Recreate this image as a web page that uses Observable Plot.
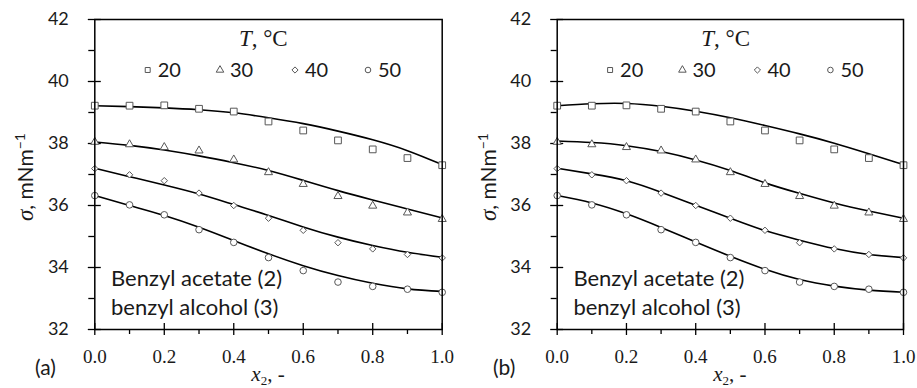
<!DOCTYPE html>
<html><head><meta charset="utf-8">
<script src="https://cdn.jsdelivr.net/npm/d3@7"></script>
<script src="https://cdn.jsdelivr.net/npm/@observablehq/plot@0.6"></script>
<style>
html,body{margin:0;padding:0;background:#fff;}
#wrap{position:relative;width:917px;height:388px;overflow:hidden;background:#fff;}
#wrap svg{position:absolute;top:0;}
</style></head><body><div id="wrap"></div>
<script>
// ---- data ----
const x2 = [0.0, 0.1, 0.2, 0.3, 0.4, 0.5, 0.6, 0.7, 0.8, 0.9, 1.0];
const temps = [20, 30, 40, 50];
// experimental surface tension, mN/m
const exp20 = [39.22, 39.22, 39.23, 39.12, 39.03, 38.71, 38.42, 38.10, 37.81, 37.53, 37.30];
const exp30 = [38.05, 37.97, 37.88, 37.77, 37.48, 37.07, 36.69, 36.30, 35.99, 35.77, 35.56];
const exp40 = [37.19, 36.99, 36.80, 36.40, 36.00, 35.59, 35.20, 34.80, 34.60, 34.42, 34.31];
const exp50 = [36.32, 36.02, 35.70, 35.22, 34.81, 34.32, 33.90, 33.53, 33.39, 33.30, 33.20];
// model curves, panel (a)
const fitA20 = [39.22, 39.19, 39.15, 39.09, 38.99, 38.83, 38.64, 38.40, 38.12, 37.77, 37.32];
const fitA30 = [38.05, 37.94, 37.79, 37.60, 37.38, 37.13, 36.81, 36.48, 36.18, 35.89, 35.60];
const fitA40 = [37.20, 36.93, 36.66, 36.37, 36.03, 35.68, 35.31, 34.98, 34.71, 34.49, 34.33];
const fitA50 = [36.32, 36.00, 35.68, 35.30, 34.87, 34.44, 34.06, 33.74, 33.49, 33.31, 33.23];
// model curves, panel (b)
const fitB20 = [39.22, 39.28, 39.29, 39.20, 39.04, 38.83, 38.58, 38.31, 38.01, 37.67, 37.32];
const fitB30 = [38.08, 38.03, 37.93, 37.74, 37.47, 37.13, 36.73, 36.39, 36.08, 35.82, 35.59];
const fitB40 = [37.20, 37.02, 36.80, 36.43, 36.01, 35.59, 35.19, 34.88, 34.61, 34.42, 34.32];
const fitB50 = [36.32, 36.08, 35.73, 35.29, 34.82, 34.36, 33.94, 33.61, 33.40, 33.27, 33.20];
const yMajor = [32, 34, 36, 38, 40, 42];
const yMinor = [33, 35, 37, 39, 41];
const xMajor = [0.0, 0.2, 0.4, 0.6, 0.8, 1.0];
const xMinor = [0.1, 0.3, 0.5, 0.7, 0.9];
const panelLabels = ["(a)", "(b)"];
const systemLines = ["Benzyl acetate (2)", "benzyl alcohol (3)"];

// ---- rendering ----
const SANS = "Lato, 'Open Sans', sans-serif";
const SERIF = "'Liberation Serif', 'DejaVu Serif', serif";
const TXT = "#1a1a1a";
const symbolNames = ["square", "triangle", "diamond2", "circle"];
const symbolR = [3.8, 3.0, 2.9, 3.3];
const d3Sym = {square: d3.symbolSquare, triangle: d3.symbolTriangle, diamond2: d3.symbolDiamond2, circle: d3.symbolCircle};
const expSeries = [exp20, exp30, exp40, exp50];

function panel(fits, cfg) {
  const fitRows = temps.flatMap((t, i) => x2.map((x, j) => ({x, v: fits[i][j], t})));
  const dots = temps.map((t, i) => Plot.dot(x2.map((x, j) => ({x, v: expSeries[i][j]})),
    {x: "x", y: "v", symbol: symbolNames[i], r: symbolR[i], fill: "#fff", stroke: "#575757", strokeWidth: 1}));
  return Plot.plot({
    width: cfg.width, height: 388,
    marginLeft: cfg.ml, marginRight: cfg.mr, marginTop: 19, marginBottom: 59,
    x: {domain: [0, 1], label: null},
    y: {domain: [32, 42], label: null},
    style: {background: "transparent", overflow: "hidden"},
    marks: [
      Plot.axisY(yMajor, {tickSize: 13, dx: 6.5, text: null, label: null, strokeWidth: 1.3, stroke: "#000"}),
      Plot.axisY(yMinor, {tickSize: 6, text: null, label: null, strokeWidth: 1.3, stroke: "#000"}),
      Plot.axisY(yMajor, {tickSize: 0, tickPadding: 26, label: null, fontSize: 18, fontFamily: SANS, fill: TXT}),
      Plot.axisX(xMajor, {tickSize: 12, dy: -6, text: null, label: null, strokeWidth: 1.3, stroke: "#000"}),
      Plot.axisX(xMinor, {tickSize: 5, text: null, label: null, strokeWidth: 1.3, stroke: "#000"}),
      Plot.axisX(xMajor, {tickSize: 0, tickPadding: 20, label: null, fontSize: 19, fontFamily: SERIF, fill: TXT, tickFormat: d => d.toFixed(1)}),
      Plot.line(fitRows, {x: "x", y: "v", z: "t", curve: "natural", stroke: "#000", strokeWidth: 1.6}),
      ...dots,
      Plot.frame({stroke: "#000", strokeWidth: 1.5})
    ]
  });
}

function decorate(svg, label) {
  const sx = svg.scale("x"), sy = svg.scale("y");
  const L = sx.apply(0), R = sx.apply(1), T = sy.apply(42), B = sy.apply(32);
  const g = d3.select(svg).append("g").attr("fill", TXT).attr("text-anchor", "start");
  // legend title
  const tt = g.append("text").attr("x", L + 169).attr("y", T + 27).attr("text-anchor", "middle")
    .attr("font-family", SERIF).attr("font-size", 23);
  tt.append("tspan").attr("font-style", "italic").text("T");
  tt.append("tspan").text(", \u00B0C");
  // legend entries
  const symX = [53.4, 125.7, 200.7, 273.7];
  temps.forEach((t, i) => {
    g.append("path").attr("d", d3.symbol(d3Sym[symbolNames[i]], Math.PI * 2.8 * 2.8)())
      .attr("transform", `translate(${L + symX[i]},${T + 51})`)
      .attr("fill", "#fff").attr("stroke", "#575757").attr("stroke-width", 1);
    g.append("text").attr("x", L + symX[i] + 10).attr("y", T + 58.3).attr("text-anchor", "start")
      .attr("font-family", SANS).attr("font-size", 20).text(String(t));
  });
  // system annotation
  systemLines.forEach((s, i) => {
    g.append("text").attr("x", L + 16.7).attr("y", B - 43 + 29 * i).attr("text-anchor", "start")
      .attr("font-family", SANS).attr("font-size", 22).text(s);
  });
  // y label
  const yl = g.append("text").attr("transform", `translate(${L - 61},${(T + B) / 2 + 3}) rotate(-90)`)
    .attr("text-anchor", "middle").attr("font-family", SANS).attr("font-size", 21);
  yl.append("tspan").attr("font-family", SERIF).attr("font-style", "italic").attr("font-size", 23).text("\u03C3");
  yl.append("tspan").text(", mNm");
  yl.append("tspan").attr("font-size", 14).attr("dy", -8).text("\u22121");
  // x label
  const xl = g.append("text").attr("x", (L + R) / 2).attr("y", 381).attr("text-anchor", "middle")
    .attr("font-family", SERIF).attr("font-size", 21);
  xl.append("tspan").attr("font-style", "italic").text("x");
  xl.append("tspan").attr("font-size", 13).attr("dy", 4).text("2");
  xl.append("tspan").attr("dy", -4).text(", -");
  // panel label
  g.append("text").attr("x", 35).attr("y", 375).attr("text-anchor", "start")
    .attr("font-family", SANS).attr("font-size", 21).text(label);
}

const wrap = document.getElementById("wrap");
const a = panel([fitA20, fitA30, fitA40, fitA50], {width: 458, ml: 94.3, mr: 458 - 441.7});
decorate(a, panelLabels[0]);
a.style.left = "0px";
wrap.appendChild(a);
const b = panel([fitB20, fitB30, fitB40, fitB50], {width: 459, ml: 556.7 - 458, mr: 459 - (903 - 458)});
decorate(b, panelLabels[1]);
b.style.left = "458px";
wrap.appendChild(b);
</script>
</body></html>
